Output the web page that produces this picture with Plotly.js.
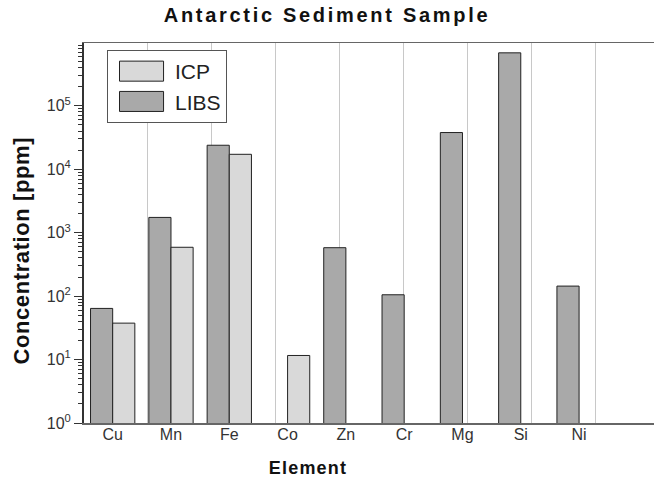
<!DOCTYPE html>
<html>
<head>
<meta charset="utf-8">
<script src="https://cdn.plot.ly/plotly-3.0.1.min.js"></script>
<style>
  html, body { margin: 0; padding: 0; background: #fff; overflow: hidden; }
  #chart { width: 654px; height: 477px; }
  .gtitle { letter-spacing: 2.7px; }
  .xtick text { letter-spacing: 1.5px; }
  .annotation[data-index="0"] text { letter-spacing: 1.2px; }
  .annotation[data-index="1"] text { letter-spacing: 0.6px; }
</style>
</head>
<body>
<div id="chart"></div>
<script>
// ---- data ----
const elements = ['Cu', 'Mn', 'Fe', 'Co', 'Zn', 'Cr', 'Mg', 'Si', 'Ni'];
const libsValues = [64, 1740, 23900, null, 580, 105, 37900, 684000, 144];
const icpValues = [37.5, 589, 17200, 11.6, null, null, null, null, null];
const yTickVals = [1, 10, 100, 1000, 10000, 100000];
const yTickText = ['10<sup>0</sup>', '10<sup>1</sup>', '10<sup>2</sup>', '10<sup>3</sup>', '10<sup>4</sup>', '10<sup>5</sup>'];
const gridBoundaries = [1, 2, 3, 4, 5, 6, 7, 8];

const FONT = 'Liberation Sans, Arial, sans-serif';

const traces = [
  {
    type: 'bar', name: 'LIBS', x: elements, y: libsValues,
    xaxis: 'x2', yaxis: 'y', legendrank: 2,
    marker: { color: '#a9a9a9', line: { color: '#222', width: 1 } },
    hoverinfo: 'x+y'
  },
  {
    type: 'bar', name: 'ICP', x: elements, y: icpValues,
    xaxis: 'x2', yaxis: 'y', legendrank: 1,
    marker: { color: '#d9d9d9', line: { color: '#222', width: 1 } },
    hoverinfo: 'x+y'
  },
  {
    // carrier for the category-separator grid axis (draws no marks)
    type: 'scatter', mode: 'markers', x: gridBoundaries, y: gridBoundaries.map(function () { return null; }),
    xaxis: 'x', yaxis: 'y', showlegend: false, hoverinfo: 'skip'
  }
];

const layout = {
  width: 654, height: 477, autosize: false,
  margin: { l: 84, r: 0, t: 43, b: 54, pad: 0, autoexpand: false },
  paper_bgcolor: '#fff', plot_bgcolor: '#fff',
  font: { family: FONT, color: '#222' },
  title: {
    text: 'Antarctic Sediment Sample',
    font: { family: FONT, size: 20, weight: 'bold', color: '#111' },
    x: 0.5, xanchor: 'center', y: 0.968, yanchor: 'middle'
  },
  barmode: 'group', bargap: 0.24, bargroupgap: 0,
  showlegend: true,
  legend: {
    x: 0.0404, y: 0.9816, xanchor: 'left', yanchor: 'top',
    traceorder: 'normal',
    bgcolor: '#fff', bordercolor: '#555', borderwidth: 1,
    font: { family: FONT, size: 21, color: '#222' },
    itemwidth: 57
  },
  xaxis: {
    type: 'linear', domain: [0, 1], range: [0, 570 / 63.9],
    tickmode: 'array', tickvals: gridBoundaries, showticklabels: false,
    ticks: '', showgrid: true, gridcolor: '#c8c8c8', gridwidth: 1,
    zeroline: false, showline: true, linecolor: '#666', linewidth: 1.5, mirror: 'all',
    anchor: 'y', fixedrange: true
  },
  xaxis2: {
    type: 'category', overlaying: 'x', anchor: 'y', side: 'bottom',
    range: [-0.492, 9.285], showgrid: false, showline: false, zeroline: false,
    ticks: '', tickfont: { family: FONT, size: 16, color: '#333' },
    fixedrange: true
  },
  yaxis: {
    type: 'log', range: [0, 5.99],
    tickmode: 'array', tickvals: yTickVals, ticktext: yTickText,
    ticks: 'outside', ticklen: 8, tickwidth: 1, tickcolor: '#333',
    minor: { dtick: 'D1', ticks: 'outside', ticklen: 4, tickcolor: '#333', tickwidth: 1, showgrid: false },
    showgrid: false, zeroline: false, showline: true, linecolor: '#333', linewidth: 2,
    tickfont: { family: FONT, size: 16, color: '#333' },
    fixedrange: true
  },
  annotations: [
    {
      text: 'Element', xref: 'paper', yref: 'paper', x: 0.393, y: -0.118,
      xanchor: 'center', yanchor: 'middle', showarrow: false,
      font: { family: FONT, size: 18, weight: 'bold', color: '#111' }
    },
    {
      text: 'Concentration [ppm]', xref: 'paper', yref: 'paper', x: -0.1088, y: 0.453,
      xanchor: 'center', yanchor: 'middle', showarrow: false, textangle: -90,
      font: { family: FONT, size: 22, weight: 'bold', color: '#111' }
    }
  ]
};

Plotly.newPlot('chart', traces, layout, { displayModeBar: false, staticPlot: true }).then(function () {
  document.querySelectorAll('.legend .legendpoints path').forEach(function (p) {
    var t = p.getAttribute('transform') || '';
    p.setAttribute('transform', t + ' scale(3.67,1.67)');
    p.setAttribute('vector-effect', 'non-scaling-stroke');
    p.style.strokeWidth = '1px';
  });
});
</script>
</body>
</html>
